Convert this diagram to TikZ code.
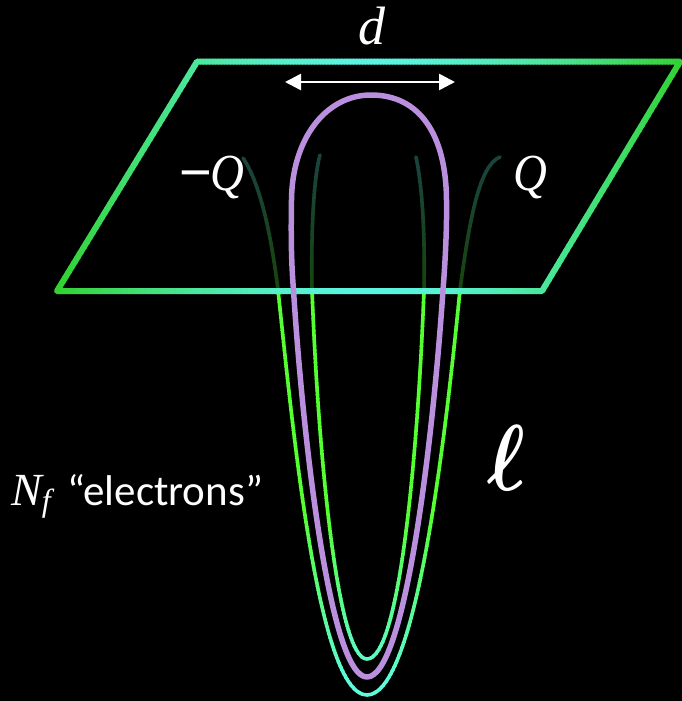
\documentclass[tikz,border=0pt]{standalone}
\usepackage{fontspec}
\setmainfont{Carlito}
\newfontfamily\serifit{Liberation Serif}[FakeStretch=0.9]
\newfontfamily\serifwide{Liberation Serif}
\newfontfamily\libsans{Liberation Sans}
\usetikzlibrary{arrows.meta}
\definecolor{edgegreen}{RGB}{50,210,50}
\definecolor{planecyan}{RGB}{90,245,225}
\definecolor{linegreen}{RGB}{85,255,50}
\definecolor{linecyan}{RGB}{95,250,220}
\definecolor{loopcol}{RGB}{186,143,222}
\newcommand{\outerpath}{(243,158) .. controls (258,180) and (270,225) .. (278,290) .. controls (293,430) and (318,695) .. (367,695) .. controls (417,695) and (446,430) .. (460,290) .. controls (470,215) and (480,165) .. (500,157)}
\newcommand{\innerpath}{(320,155) .. controls (313,180) and (311,240) .. (312,290) .. controls (318,450) and (337,659) .. (367,659) .. controls (400,659) and (418,450) .. (424,290) .. controls (425,240) and (423,190) .. (416,157)}
\newcommand{\planepath}{(57,291) -- (542,291) -- (680,61.7) -- (197,61.7) -- cycle}
\tikzset{
  txt/.style={text=white,inner sep=0pt,anchor=base west},
  maletter/.style={txt,font=\serifit\itshape\fontsize{52}{52}\selectfont},
  gline/.style={line width=3.6pt,line cap=round},
  planeline/.style={line width=6pt,line join=round},
  loopline/.style={draw=loopcol,line width=5.5pt,line join=round},
  darrow/.style={draw=white,line width=2.5pt,{Triangle[length=16pt,width=16pt]}-{Triangle[length=16pt,width=16pt]},shorten <=0pt,shorten >=0pt}
}
\begin{document}
\begin{tikzpicture}[x=1pt,y=-1pt]
\useasboundingbox (0,0) rectangle (682,701);
\fill[black] (0,0) rectangle (682,701);
% dim part of the flavour lines, above the plane
\foreach \y in {150,154,...,286}{
  \pgfmathsetmacro{\mx}{max(0,min(100,(291-\y)/1.3))}
  \colorlet{bandc}{linecyan!\mx!linegreen}
  \colorlet{dimc}{bandc!27!black}
  \begin{scope}
    \clip (0,\y) rectangle (682,\y+4.5);
    \draw[gline,draw=dimc] \outerpath;
    \draw[gline,draw=dimc] \innerpath;
  \end{scope}
}
% bright part, below the plane
\foreach \y in {290,294,...,698}{
  \pgfmathsetmacro{\mx}{max(0,min(100,(\y-510)/1.7))}
  \colorlet{bandc}{linecyan!\mx!linegreen}
  \begin{scope}
    \clip (0,\y) rectangle (682,\y+4.5);
    \draw[gline,draw=bandc] \outerpath;
    \draw[gline,draw=bandc] \innerpath;
  \end{scope}
}
% plane
\foreach \x in {50,53,...,686}{
  \pgfmathsetmacro{\mx}{100*(1-min(1,abs(\x-368)/311)^1.6)}
  \colorlet{bandc}{planecyan!\mx!edgegreen}
  \begin{scope}
    \clip (\x,40) rectangle (\x+3.5,310);
    \draw[planeline,draw=bandc] \planepath;
  \end{scope}
}
% purple loop
\draw[loopline] (367,677) .. controls (330,677) and (303,440) .. (293.5,290) .. controls (291,260) and (291,230) .. (291.5,200) .. controls (292,140) and (325,95) .. (371,95) .. controls (420,95) and (446,135) .. (446.5,200) .. controls (447,230) and (445,265) .. (443,290) .. controls (433,440) and (405,677) .. (367,677) -- cycle;
% width arrow
\coordinate (dl) at (285,82);
\coordinate (dr) at (455,82);
\draw[darrow] (dl) -- (dr);
% labels
\node[txt,font=\serifwide\itshape\fontsize{54}{54}\selectfont] (dlabel) at (358,45) {d};
\node[txt] (minusq) at (179,190) {\raisebox{-1pt}{\libsans\fontsize{56}{56}\selectfont −}\kern-1pt{\serifit\itshape\fontsize{52}{52}\selectfont Q}};
\node[maletter] (qlabel) at (513,190) {Q};
\node[txt] (ell) at (487,490) {\resizebox{38pt}{65pt}{\boldmath$\ell$}};
\node[txt] (nf) at (11,505) {{\serifwide\itshape\fontsize{46}{46}\selectfont N}\raisebox{-6pt}{\serifwide\itshape\fontsize{32}{32}\selectfont f}};
\node[txt,font=\fontsize{43}{43}\selectfont] (el) at (67,505) {“electrons”};
\end{tikzpicture}
\end{document}
